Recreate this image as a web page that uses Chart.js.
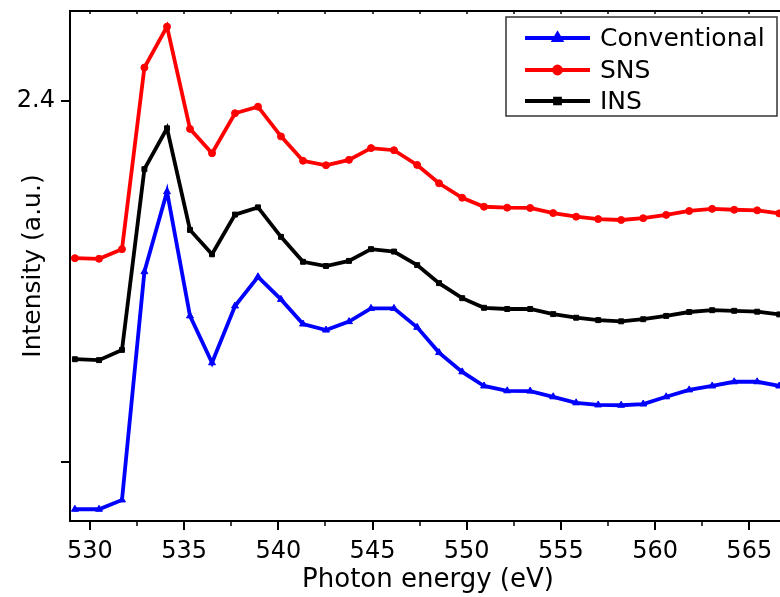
<!DOCTYPE html>
<html>
<head>
<meta charset="utf-8">
<script src="https://cdn.jsdelivr.net/npm/chart.js@4/dist/chart.umd.min.js"></script>
<style>
  html, body { margin: 0; padding: 0; background: #fff; overflow: hidden; }
  #wrap { width: 800px; height: 597px; }
</style>
</head>
<body>
<div id="wrap"><canvas id="xas" width="800" height="597"></canvas></div>
<script>
// photon energy (eV)
const energy = [529.20, 530.48, 531.70, 532.89, 534.09, 535.31, 536.48, 537.70, 538.92, 540.14,
                541.31, 542.53, 543.75, 544.92, 546.14, 547.37, 548.53, 549.76, 550.92, 552.15,
                553.37, 554.59, 555.81, 556.98, 558.20, 559.37, 560.59, 561.81, 563.03, 564.20,
                565.42, 566.59];

const conventional = [1.042, 1.042, 1.073, 1.832, 2.098, 1.685, 1.529, 1.718, 1.815, 1.740,
                      1.658, 1.638, 1.666, 1.710, 1.710, 1.647, 1.563, 1.499, 1.452, 1.436,
                      1.435, 1.416, 1.396, 1.389, 1.388, 1.392, 1.416, 1.439, 1.452, 1.466,
                      1.466, 1.452];
const sns = [1.877, 1.875, 1.907, 2.511, 2.647, 2.307, 2.226, 2.359, 2.381, 2.282,
             2.201, 2.186, 2.204, 2.243, 2.236, 2.187, 2.126, 2.078, 2.048, 2.045,
             2.044, 2.027, 2.015, 2.007, 2.004, 2.010, 2.021, 2.034, 2.041, 2.038,
             2.036, 2.026];
const ins = [1.541, 1.538, 1.572, 2.173, 2.309, 1.971, 1.890, 2.022, 2.046, 1.948,
             1.865, 1.851, 1.868, 1.907, 1.899, 1.854, 1.794, 1.744, 1.712, 1.708,
             1.708, 1.691, 1.679, 1.671, 1.667, 1.674, 1.685, 1.698, 1.704, 1.702,
             1.699, 1.690];

const seriesNames = ['Conventional', 'SNS', 'INS'];
const xTicks = [530, 535, 540, 545, 550, 555, 560, 565];
const xMinorTicks = [532.5, 537.5, 542.5, 547.5, 552.5, 557.5, 562.5];
const yTicks = [1.2, 2.4];
const yTickLabels = ['', '2.4'];

const FONT = '"DejaVu Sans", sans-serif';

const toPoints = ys => energy.map((x, i) => ({ x: x, y: ys[i] }));

// frame on top/right, minor ticks, and the boxed legend
const framePlugin = {
  id: 'frame',
  afterDraw(chart) {
    const { ctx, chartArea: a, scales } = chart;
    const xs = scales.x;
    ctx.save();
    ctx.strokeStyle = '#000';
    ctx.lineWidth = 2;
    ctx.beginPath();
    ctx.moveTo(a.left - 1, a.top);
    ctx.lineTo(a.right, a.top);
    ctx.lineTo(a.right, a.bottom);
    ctx.stroke();

    // minor ticks bottom, small ticks on top edge
    ctx.lineWidth = 1.5;
    ctx.beginPath();
    xMinorTicks.forEach(v => {
      const px = Math.round(xs.getPixelForValue(v));
      ctx.moveTo(px, a.bottom);
      ctx.lineTo(px, a.bottom + 5);
    });
    xTicks.concat(xMinorTicks).forEach(v => {
      const px = Math.round(xs.getPixelForValue(v));
      ctx.moveTo(px, a.top);
      ctx.lineTo(px, a.top + 3);
    });
    ctx.stroke();

    // legend
    const bx = 506, by = 17, bw = 271, bh = 99;
    ctx.fillStyle = '#fff';
    ctx.fillRect(bx, by, bw, bh);
    ctx.strokeStyle = '#333';
    ctx.lineWidth = 1.5;
    ctx.strokeRect(bx, by, bw, bh);
    const rows = [38, 70, 101];
    chart.data.datasets.forEach((ds, i) => {
      const y = rows[i];
      ctx.strokeStyle = ds.borderColor;
      ctx.fillStyle = ds.borderColor;
      ctx.lineWidth = 3.8;
      ctx.beginPath();
      ctx.moveTo(525, y);
      ctx.lineTo(590, y);
      ctx.stroke();
      Chart.helpers.drawPoint(ctx, {
        pointStyle: ds.pointStyle, radius: ds.pointRadius, rotation: 0, borderWidth: 1
      }, 557.5, y);
      ctx.fillStyle = '#000';
      ctx.font = '25px ' + FONT;
      ctx.textBaseline = 'middle';
      ctx.textAlign = 'left';
      ctx.fillText(ds.label, 600, y + 1);
    });
    ctx.restore();
  }
};

new Chart(document.getElementById('xas'), {
  type: 'line',
  data: {
    datasets: [
      { label: seriesNames[0], data: toPoints(conventional), borderColor: '#0000ff', backgroundColor: '#0000ff',
        pointStyle: 'triangle', pointRadius: 4 },
      { label: seriesNames[1], data: toPoints(sns), borderColor: '#ff0000', backgroundColor: '#ff0000',
        pointStyle: 'circle', pointRadius: 3.5 },
      { label: seriesNames[2], data: toPoints(ins), borderColor: '#000000', backgroundColor: '#000000',
        pointStyle: 'rect', pointRadius: 3.5 }
    ]
  },
  options: {
    responsive: false,
    animation: false,
    clip: false,
    layout: { padding: { left: 0, top: 11, right: 14, bottom: 0 } },
    elements: {
      line: { borderWidth: 3.8, tension: 0 },
      point: { borderWidth: 1 }
    },
    plugins: { legend: { display: false }, tooltip: { enabled: false } },
    scales: {
      x: {
        type: 'linear',
        min: 528.94,
        max: 566.95,
        afterFit(s) { s.height = 76; s.paddingLeft = 0; s.paddingRight = 0; },
        afterBuildTicks(s) { s.ticks = xTicks.map(v => ({ value: v })); },
        border: { display: true, color: '#000', width: 2 },
        grid: { drawOnChartArea: false, drawTicks: true, tickLength: 9, color: '#000', lineWidth: 2 },
        ticks: { color: '#000', font: { family: FONT, size: 24 }, padding: 7, maxRotation: 0 },
        title: { display: true, text: 'Photon energy (eV)', color: '#000',
                 font: { family: FONT, size: 26 }, padding: { top: 0, bottom: 1 } }
      },
      y: {
        min: 1.003,
        max: 2.699,
        afterFit(s) { s.width = 70; s.paddingTop = 0; s.paddingBottom = 0; },
        afterBuildTicks(s) { s.ticks = yTicks.map(v => ({ value: v })); },
        border: { display: true, color: '#000', width: 2 },
        grid: { drawOnChartArea: false, drawTicks: true, tickLength: 9, color: '#000', lineWidth: 2 },
        ticks: { color: '#000', font: { family: FONT, size: 24 }, padding: 6,
                 callback: (v, i) => yTickLabels[i] },
        title: { display: true, text: 'Intensity (a.u.)', color: '#000',
                 font: { family: FONT, size: 25 }, padding: { top: 18, bottom: 0 } }
      }
    }
  },
  plugins: [framePlugin]
});
</script>
</body>
</html>
